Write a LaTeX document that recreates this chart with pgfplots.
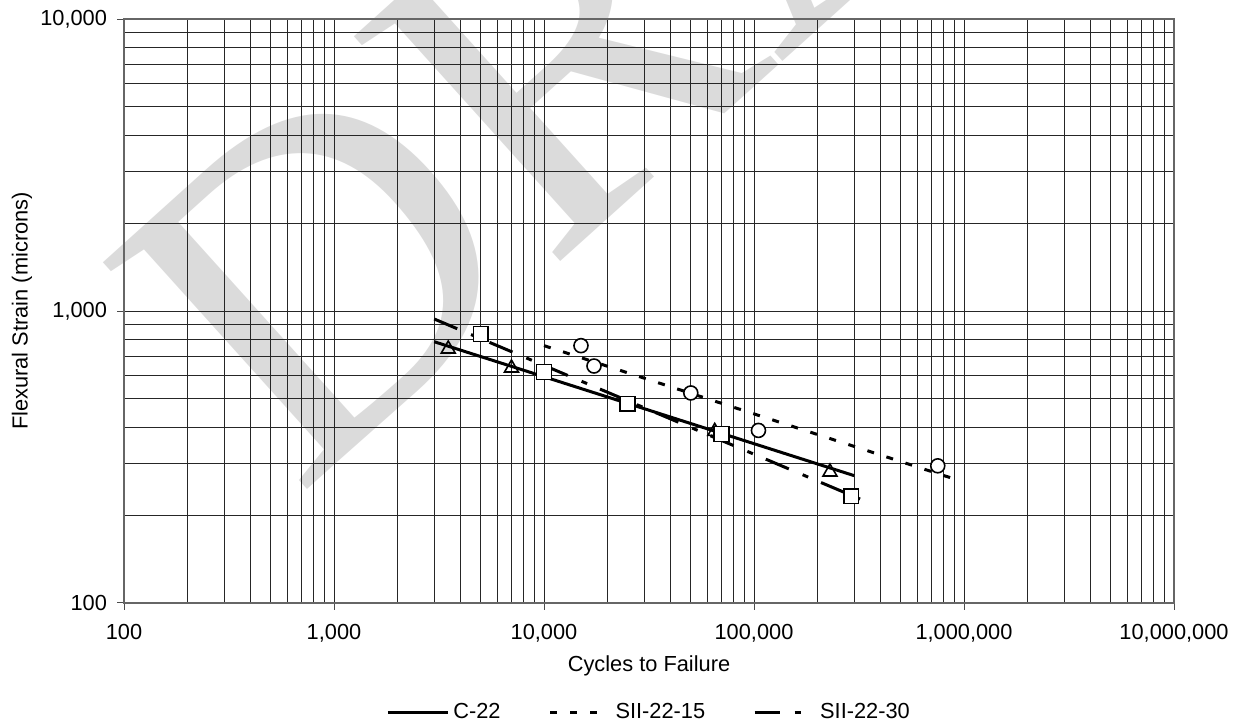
\documentclass[border=0pt]{standalone}
\usepackage{fontspec}
\setmainfont{Liberation Sans}
\newfontfamily\wmfont{Liberation Serif}
\usepackage{pgfplots}
\pgfplotsset{compat=1.18}
\begin{document}
\begin{tikzpicture}
% watermark behind the chart
\node[rotate=42, anchor=base west, inner sep=0pt, outer sep=0pt, text=black!14,
  font=\wmfont\fontsize{233}{233}\selectfont, overlay]
  at (87pt,52.5pt) {DRAFT};
\begin{axis}[
  xmode=log, ymode=log,
  scale only axis, width=525pt, height=292pt,
  xmin=100, xmax=1e7, ymin=100, ymax=10000,
  xtick={100,1000,10000,100000,1000000,10000000},
  xticklabels={100,{1,000},{10,000},{100,000},{1,000,000},{10,000,000}},
  ytick={100,1000,10000},
  yticklabels={100,{1,000},{10,000}},
  grid=both,
  major grid style={black!85, line width=0.5pt},
  minor grid style={black!85, line width=0.5pt},
  axis line style={black!60, line width=0.6pt},
  tick align=outside, major tick length=3.5pt, minor tick length=0pt,
  xtick pos=bottom, ytick pos=left,
  tick style={black!70, line width=0.5pt},
  ticklabel style={font=\fontsize{10.9}{12}\selectfont},
  xticklabel style={yshift=-3.5pt},
  yticklabel style={xshift=-1.5pt},
  /pgf/number format/assume math mode=true,
  xlabel={Cycles to Failure}, ylabel={Flexural Strain (microns)},
  every axis x label/.style={at={(axis description cs:0.5,-0.108)}, anchor=center, font=\fontsize{10.9}{12}\selectfont},
  every axis y label/.style={at={(axis description cs:-0.0971,0.5)}, anchor=center, rotate=90, font=\fontsize{10.9}{12}\selectfont},
  legend style={at={(axis description cs:0.501,-0.188)}, anchor=center, draw=none, fill=none,
    legend columns=3, font=\fontsize{10.9}{12}\selectfont,
    /tikz/every even column/.append style={column sep=22pt}},
  legend image code/.code={\draw[#1] (0pt,0pt) -- (30pt,0pt);},
]
% power-law trend lines
\addplot[black, line width=1.5pt] coordinates {(3000,785) (300000,273)};
\addlegendentry{C-22}
\addplot[black, line width=1.5pt, dash pattern=on 3.5pt off 6.5pt] coordinates {(10000,761) (870000,268)};
\addlegendentry{SII-22-15}
\addplot[black, line width=1.5pt, dash pattern=on 12.5pt off 7.5pt on 3pt off 7pt] coordinates {(3000,939) (320000,227)};
\addlegendentry{SII-22-30}
% measured data
\addplot[only marks, forget plot, mark=triangle, mark size=4pt,
  mark options={fill=white, draw=black, line width=0.8pt}]
  coordinates {(3500,741) (7000,638) (65000,387) (230000,281)};
\addplot[only marks, forget plot, mark=*, mark size=3.5pt,
  mark options={fill=white, draw=black, line width=0.8pt}]
  coordinates {(15000,761) (17300,648) (50000,524) (105000,390) (750000,295)};
\addplot[only marks, forget plot, mark=square*, mark size=3.7pt,
  mark options={fill=white, draw=black, line width=0.8pt}]
  coordinates {(5000,834) (10000,618) (25000,481) (70000,379) (290000,232)};
\end{axis}
\pgfresetboundingbox
\path (-62pt,-61pt) rectangle (557.5pt,301.5pt);
\end{tikzpicture}
\end{document}
